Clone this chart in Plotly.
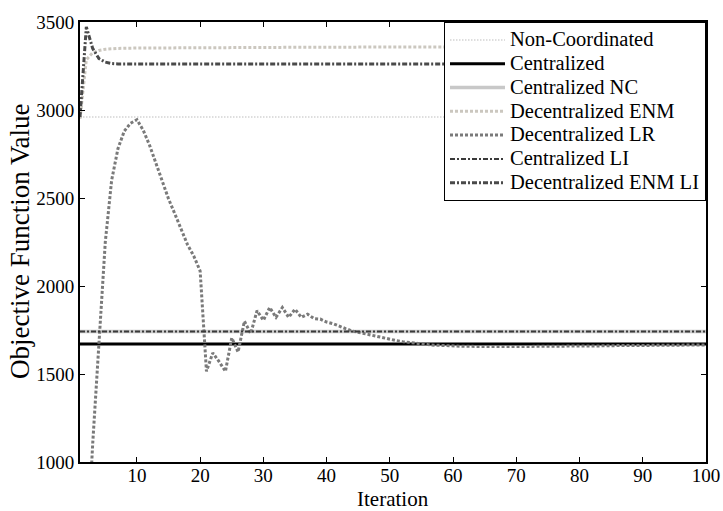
import plotly.graph_objects as go

iterations = list(range(1, 101))

# flat series: endpoints only
flat_x = [1, 100]
non_coordinated = [2960, 2960]
centralized = [1670, 1670]
centralized_nc = [1742, 1742]
centralized_li = [1742, 1742]

# Decentralized ENM (sparse readings)
enm_x = [1, 2, 3, 4, 5, 7, 10, 20, 40, 60, 100]
enm_y = [2950, 3285, 3325, 3338, 3345, 3350, 3352, 3355, 3357, 3358, 3358]

# Decentralized ENM LI (sparse readings)
enmli_x = [1, 2, 3, 4, 5, 6, 7, 10, 100]
enmli_y = [2960, 3472, 3350, 3292, 3272, 3264, 3262, 3262, 3262]

# Decentralized LR (one value per iteration)
lr_y = [200, 400, 1100, 1650, 2250, 2600, 2780, 2880, 2925, 2945,
        2885, 2800, 2700, 2590, 2495, 2410, 2320, 2235, 2170, 2085,
        1515, 1620, 1570, 1515, 1705, 1625, 1800, 1730, 1860, 1805,
        1878, 1822, 1878, 1822, 1868, 1822, 1840, 1815, 1812, 1795,
        1786, 1770, 1758, 1745, 1737, 1729, 1718, 1710, 1702, 1695,
        1690, 1684, 1679, 1675, 1670, 1667, 1664, 1662, 1660, 1659,
        1658, 1657, 1657, 1656, 1656, 1656, 1656, 1656, 1656, 1656,
        1656, 1657, 1657, 1657, 1657, 1658, 1658, 1658, 1659, 1659,
        1659, 1660, 1660, 1660, 1661, 1661, 1661, 1662, 1662, 1662,
        1663, 1663, 1663, 1663, 1664, 1664, 1664, 1664, 1665, 1665]

series_names = ["Non-Coordinated", "Centralized", "Centralized NC", "Decentralized ENM",
                "Decentralized LR", "Centralized LI", "Decentralized ENM LI"]

x_ticks = [10, 20, 30, 40, 50, 60, 70, 80, 90, 100]
y_ticks = [1000, 1500, 2000, 2500, 3000, 3500]

x_title = "Iteration"
y_title = "Objective Function Value"

FONT = "Liberation Serif"
W, H = 723, 511
ML, MR, MT, MB = 80, 17, 22, 49
PW, PH = W - ML - MR, H - MT - MB


def lbl(s):
    return '<span style="font-size:20.5px">' + s + '</span>'


fig = go.Figure()
fig.add_trace(go.Scatter(x=flat_x, y=non_coordinated, mode="lines", name=lbl(series_names[0]),
                         line=dict(color="#d4d4d4", width=1.5, dash="1.5px,1.5px")))
fig.add_trace(go.Scatter(x=flat_x, y=centralized, mode="lines", name=lbl(series_names[1]),
                         line=dict(color="black", width=3)))
fig.add_trace(go.Scatter(x=flat_x, y=centralized_nc, mode="lines", name=lbl(series_names[2]),
                         line=dict(color="#c8c8c8", width=3.5)))
fig.add_trace(go.Scatter(x=enm_x, y=enm_y, mode="lines", name=lbl(series_names[3]),
                         line=dict(color="#cbc7bf", width=3, dash="3px,2px")))
fig.add_trace(go.Scatter(x=iterations, y=lr_y, mode="lines", name=lbl(series_names[4]),
                         line=dict(color="#7a7a7a", width=3, dash="3px,2px")))
fig.add_trace(go.Scatter(x=flat_x, y=centralized_li, mode="lines", name=lbl(series_names[5]),
                         line=dict(color="#3a3a3a", width=2, dash="5px,2px,2px,2px")))
fig.add_trace(go.Scatter(x=enmli_x, y=enmli_y, mode="lines", name=lbl(series_names[6]),
                         line=dict(color="#4a4a4a", width=3, dash="5px,2px,2px,2px")))

axis_common = dict(showline=True, linecolor="black", linewidth=2, mirror="ticks",
                   ticks="inside", ticklen=5, tickwidth=1, tickcolor="black",
                   showgrid=False, zeroline=False, automargin=False,
                   tickfont=dict(family=FONT, size=19, color="black"))

fig.update_xaxes(range=[1, 100], tickvals=x_ticks, ticklabelstandoff=-5, **axis_common)
fig.update_yaxes(range=[1000, 3500], tickvals=y_ticks, **axis_common)

# axis titles as annotations so they can sit exactly in the margins
fig.add_annotation(text=x_title, xref="paper", yref="paper",
                   x=0.5, y=-(499 - (H - MB)) / PH, xanchor="center", yanchor="middle",
                   showarrow=False, borderpad=0,
                   font=dict(family=FONT, size=21, color="black"))
fig.add_annotation(text=y_title, xref="paper", yref="paper",
                   x=-(ML - 20) / PW, y=0.5, xanchor="center", yanchor="middle",
                   textangle=-90, showarrow=False, borderpad=0,
                   font=dict(family=FONT, size=27, color="black"))

fig.update_layout(
    width=W, height=H,
    margin=dict(l=ML, r=MR, t=MT, b=MB),
    plot_bgcolor="white", paper_bgcolor="white",
    font=dict(family=FONT, color="black"),
    legend=dict(x=1, y=1, xanchor="right", yanchor="top",
                bgcolor="white", bordercolor="black", borderwidth=1,
                font=dict(family=FONT, size=16, color="black"),
                itemwidth=55, tracegroupgap=0),
    showlegend=True,
)

fig.write_html("out.html")
